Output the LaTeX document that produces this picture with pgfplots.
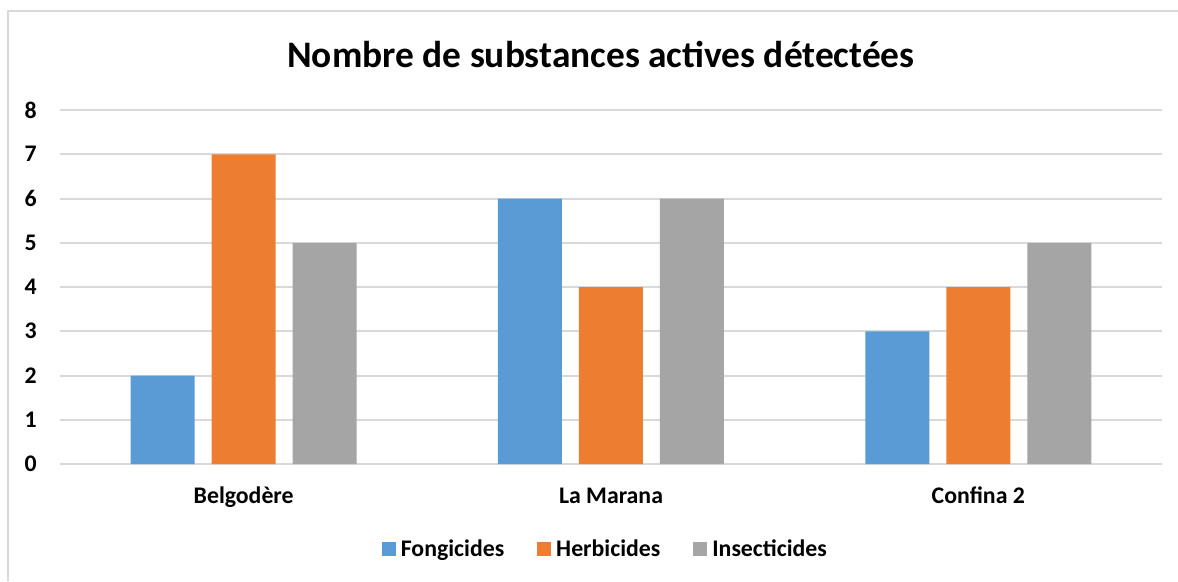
\documentclass[border=0pt]{standalone}
\usepackage{fontspec}
\setmainfont{Carlito}
\usepackage{pgfplots}
\pgfplotsset{compat=1.18}
\definecolor{cblue}{HTML}{5B9BD5}
\definecolor{corange}{HTML}{ED7D31}
\definecolor{cgray}{HTML}{A5A5A5}
\definecolor{cgrid}{HTML}{D9D9D9}
\begin{document}
\begin{tikzpicture}[x=1pt,y=1pt]
\path[use as bounding box, fill=white] (0,0) rectangle (1178,581);
\draw[cgrid, line width=1.5pt] (8,0) -- (8,570) -- (1178,570);
\node[anchor=base, font=\fontsize{37.4}{40}\selectfont\bfseries] at (601,513) {Nombre de substances actives détectées};
\begin{axis}[
  at={(60pt,117pt)}, anchor=south west,
  scale only axis, width=1102pt, height=354pt,
  xmin=-0.5, xmax=2.5, ymin=0, ymax=8,
  ybar=17pt, bar width=64pt,
  xtick={0,1,2}, xticklabels={Belgodère,La Marana,Confina 2},
  ytick={0,1,...,8},
  major tick length=0pt,
  axis line style={draw=none},
  ymajorgrids, grid style={cgrid, line width=2pt},
  /pgf/number format/assume math mode=true,
  ticklabel style={font=\fontsize{23.8}{26}\selectfont\bfseries},
  yticklabel style={anchor=east, inner sep=0pt, xshift=-23pt},
  xticklabel style={anchor=base, inner sep=0pt, yshift=-39pt},
  legend style={at={(0.494,-0.240)}, anchor=center, draw=none, legend columns=3,
    font=\fontsize{23.8}{26}\selectfont\bfseries,
    nodes={inner sep=0pt},
    /tikz/every odd column/.append style={column sep=5pt},
    /tikz/every even column/.append style={column sep=33pt}},
  legend image code/.code={\fill[#1, draw=none] (0pt,-7pt) rectangle (14pt,7pt);},
]
\addplot[fill=cblue, draw=none] coordinates {(0,2) (1,6) (2,3)};
\addplot[fill=corange, draw=none] coordinates {(0,7) (1,4) (2,4)};
\addplot[fill=cgray, draw=none] coordinates {(0,5) (1,6) (2,5)};
\legend{Fongicides,Herbicides,Insecticides}
\end{axis}
\end{tikzpicture}
\end{document}
